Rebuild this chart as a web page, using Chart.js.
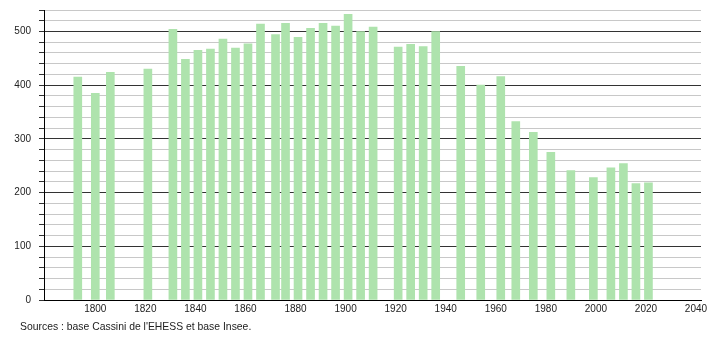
<!DOCTYPE html>
<html>
<head>
<meta charset="utf-8">
<script src="https://cdn.jsdelivr.net/npm/chart.js@4/dist/chart.umd.min.js"></script>
<style>
  body { margin: 0; background: #fff; }
  #wrap { position: relative; width: 710px; height: 340px; }
  #source {
    position: absolute; left: 20px; top: 321px;
    font: 10.4px "Liberation Sans", Arial, sans-serif; color: #222;
  }
</style>
</head>
<body>
<div id="wrap">
  <canvas id="chart" width="710" height="340"></canvas>
  <div id="source">Sources : base Cassini de l'EHESS et base Insee.</div>
</div>
<script>
// census years and population
const years = [1793, 1800, 1806, 1821, 1831, 1836, 1841, 1846, 1851, 1856, 1861, 1866,
  1872, 1876, 1881, 1886, 1891, 1896, 1901, 1906, 1911, 1921, 1926, 1931, 1936,
  1946, 1954, 1962, 1968, 1975, 1982, 1990, 1999, 2006, 2011, 2016, 2021];
const population = [415, 385, 424, 430, 504, 448, 465, 467, 486, 469, 477, 514,
  494, 515, 489, 506, 515, 510, 532, 500, 508, 471, 476, 472, 500,
  435, 400, 416, 332, 312, 275, 241, 228, 246, 254, 217, 218];

const xTicks = [1800, 1820, 1840, 1860, 1880, 1900, 1920, 1940, 1960, 1980, 2000, 2020, 2040];
const yLabels = [0, 100, 200, 300, 400, 500];
const yMax = 540;
const yMinorStep = 20;

const font = { family: "'Liberation Sans', Arial, sans-serif", size: 10 };

new Chart(document.getElementById("chart"), {
  type: "bar",
  data: {
    datasets: [{
      data: years.map((y, i) => ({ x: y, y: population[i] })),
      backgroundColor: "#aee3ad",
      barThickness: 8
    }]
  },
  options: {
    responsive: false,
    animation: false,
    layout: { padding: { top: 10, right: 9, left: 0, bottom: 24 } },
    plugins: { legend: { display: false }, tooltip: { enabled: false } },
    scales: {
      x: {
        type: "linear",
        offset: false,
        min: 1779.5,
        max: 2042,
        afterBuildTicks: s => { s.ticks = xTicks.map(v => ({ value: v })); },
        afterFit: s => { s.height = 16; s.paddingLeft = 0; s.paddingRight = 0; },
        grid: { display: false, drawTicks: false },
        border: { display: true, color: "#000" },
        ticks: { color: "#222", font: font, padding: 3, maxRotation: 0, autoSkip: false,
          callback: v => String(v) }
      },
      y: {
        min: 0,
        max: yMax,
        afterBuildTicks: s => {
          const t = [];
          for (let v = 0; v <= yMax; v += yMinorStep) t.push({ value: v });
          s.ticks = t;
        },
        afterFit: s => { s.width = 44; s.paddingTop = 0; s.paddingBottom = 0; },
        grid: {
          color: c => (c.tick.value % 100 === 0 ? "#333" : "#c8c8c8"),
          tickColor: "#333",
          tickLength: 5,
          lineWidth: 1
        },
        border: { display: true, color: "#000" },
        ticks: { color: "#222", font: font, padding: 8, autoSkip: false,
          callback: v => (yLabels.includes(v) ? String(v) : "") }
      }
    }
  }
});
</script>
</body>
</html>
